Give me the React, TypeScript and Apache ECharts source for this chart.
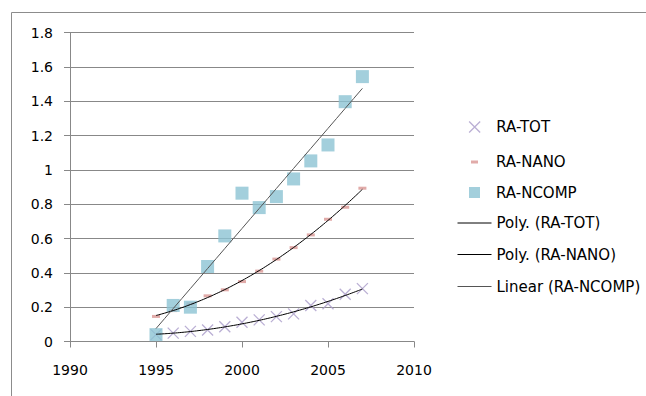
import React, { useEffect, useRef } from "react";
import * as echarts from "echarts";

// ---- data ----
const years = [1995, 1996, 1997, 1998, 1999, 2000, 2001, 2002, 2003, 2004, 2005, 2006, 2007];
const raTot = [0.04, 0.049, 0.059, 0.067, 0.086, 0.112, 0.126, 0.145, 0.161, 0.21, 0.22, 0.275, 0.308];
const raNano = [0.146, 0.18, 0.22, 0.266, 0.301, 0.349, 0.41, 0.48, 0.547, 0.621, 0.712, 0.782, 0.893];
const raNcomp = [0.04, 0.21, 0.2, 0.437, 0.615, 0.864, 0.78, 0.844, 0.947, 1.052, 1.145, 1.397, 1.543];

const seriesNames = ["RA-TOT", "RA-NANO", "RA-NCOMP"];
const trendNames = ["Poly. (RA-TOT)", "Poly. (RA-NANO)", "Linear (RA-NCOMP)"];
const trendDegrees = [2, 2, 1];

const xMin = 1990;
const xMax = 2010;
const xStep = 5;
const yMin = 0;
const yMax = 1.8;
const yStep = 0.2;

// Trendlines: least-squares fits of the series above (as the spreadsheet draws them)
function polyFit(xs: number[], ys: number[], deg: number): number[] {
  const n = deg + 1;
  const A: number[][] = Array.from({ length: n }, () => new Array(n + 1).fill(0));
  const x0 = xs[0];
  for (let i = 0; i < xs.length; i++) {
    const x = xs[i] - x0;
    for (let r = 0; r < n; r++) {
      for (let c = 0; c < n; c++) A[r][c] += Math.pow(x, r + c);
      A[r][n] += ys[i] * Math.pow(x, r);
    }
  }
  for (let col = 0; col < n; col++) {
    let piv = col;
    for (let r = col + 1; r < n; r++) if (Math.abs(A[r][col]) > Math.abs(A[piv][col])) piv = r;
    const tmp = A[col];
    A[col] = A[piv];
    A[piv] = tmp;
    for (let r = 0; r < n; r++) {
      if (r === col) continue;
      const f = A[r][col] / A[col][col];
      for (let c = col; c <= n; c++) A[r][c] -= f * A[col][c];
    }
  }
  return A.map((row, i) => row[n] / row[i]);
}

function trendPoints(xs: number[], ys: number[], deg: number): number[][] {
  const coef = polyFit(xs, ys, deg);
  const x0 = xs[0];
  const pts: number[][] = [];
  for (let x = xs[0]; x <= xs[xs.length - 1] + 1e-9; x += 0.5) {
    let y = 0;
    for (let k = 0; k < coef.length; k++) y += coef[k] * Math.pow(x - x0, k);
    pts.push([x, y]);
  }
  return pts;
}

const FONT = "DejaVu Sans";

export default function App() {
  const ref = useRef<HTMLDivElement>(null);

  useEffect(() => {
    if (!ref.current) return;
    const chart = echarts.init(ref.current, undefined, { renderer: "svg" });

    const values = [raTot, raNano, raNcomp];
    const pair = (v: number[]) => years.map((y, i) => [y, v[i]]);
    const trendColors = ["#000", "#000", "#555"];

    const legendText = (pad: number, lh: number) => ({
      fontFamily: FONT,
      fontSize: 15,
      color: "#000",
      padding: [0, 0, 0, pad],
      lineHeight: lh,
    });

    const option: any = {
      animation: false,
      backgroundColor: "#fff",
      graphic: [
        {
          type: "rect",
          shape: { x: 11.5, y: 12.5, width: 800, height: 600 },
          style: { fill: "none", stroke: "#8c8c8c", lineWidth: 1 },
          silent: true,
          z: -10,
        },
      ],
      grid: { left: 70, right: 232, top: 32.5, bottom: 54.5, containLabel: false },
      xAxis: {
        type: "value",
        min: xMin,
        max: xMax,
        interval: xStep,
        axisLine: { show: true, lineStyle: { color: "#888", width: 1 } },
        axisTick: { show: true, length: 6, lineStyle: { color: "#888" } },
        splitLine: { show: false },
        axisLabel: {
          fontFamily: FONT,
          fontSize: 14,
          color: "#000",
          margin: 21,
          formatter: (v: number) => String(v),
        },
      },
      yAxis: {
        type: "value",
        min: yMin,
        max: yMax,
        interval: yStep,
        axisLine: { show: true, lineStyle: { color: "#888", width: 1 } },
        axisTick: { show: true, length: 6, lineStyle: { color: "#888" } },
        splitLine: { show: true, lineStyle: { color: "#888", width: 1 } },
        axisLabel: { fontFamily: FONT, fontSize: 14, color: "#000", margin: 17 },
      },
      legend: [
        {
          data: [seriesNames[0]],
          left: 468.5,
          top: 119.5,
          orient: "vertical",
          padding: 0,
          itemWidth: 11,
          itemHeight: 11,
          selectedMode: false,
          itemStyle: { borderWidth: 1.3 },
          textStyle: legendText(11, 11),
        },
        {
          data: [seriesNames[1]],
          left: 471,
          top: 154.5,
          orient: "vertical",
          padding: 0,
          itemWidth: 7,
          itemHeight: 3,
          symbolKeepAspect: false,
          selectedMode: false,
          textStyle: legendText(13, 3),
        },
        {
          data: [seriesNames[2]],
          left: 469,
          top: 185,
          orient: "vertical",
          padding: 0,
          itemWidth: 11,
          itemHeight: 11,
          selectedMode: false,
          textStyle: legendText(11, 11),
        },
        ...trendNames.map((nm, i) => ({
          data: [nm],
          left: 457,
          top: [215.5, 247, 279][i],
          orient: "vertical",
          padding: 0,
          itemWidth: 34,
          itemHeight: 14,
          selectedMode: false,
          itemStyle: { color: "transparent", borderWidth: 0, opacity: 0 },
          lineStyle: { width: 1, color: trendColors[i] },
          textStyle: legendText(0, 14),
        })),
      ],
      series: [
        {
          name: seriesNames[0],
          type: "scatter",
          data: pair(values[0]),
          symbol: "path://M0,0L10,10M10,0L0,10",
          symbolSize: 11,
          itemStyle: { color: "#a99bc9", borderColor: "#a99bc9", borderWidth: 1.3 },
          z: 2,
        },
        {
          name: seriesNames[1],
          type: "scatter",
          data: pair(values[1]),
          symbol: "rect",
          symbolSize: [8, 3],
          itemStyle: { color: "#d99694" },
          z: 3,
        },
        {
          name: seriesNames[2],
          type: "scatter",
          data: pair(values[2]),
          symbol: "rect",
          symbolSize: 13,
          itemStyle: { color: "#8cc3d3" },
          z: 4,
        },
        ...trendNames.map((nm, i) => ({
          name: nm,
          type: "line",
          data: trendPoints(years, values[i], trendDegrees[i]),
          symbol: "none",
          showSymbol: false,
          smooth: trendDegrees[i] > 1,
          itemStyle: { color: trendColors[i] },
          lineStyle: { color: trendColors[i], width: 1 },
          z: 5,
        })),
      ],
    };

    chart.setOption(option);
    return () => chart.dispose();
  }, []);

  return (
    <div
      style={{ position: "fixed", left: 0, top: 0, width: 646, height: 396, background: "#fff" }}
    >
      <div ref={ref} style={{ width: 646, height: 396 }} />
    </div>
  );
}
